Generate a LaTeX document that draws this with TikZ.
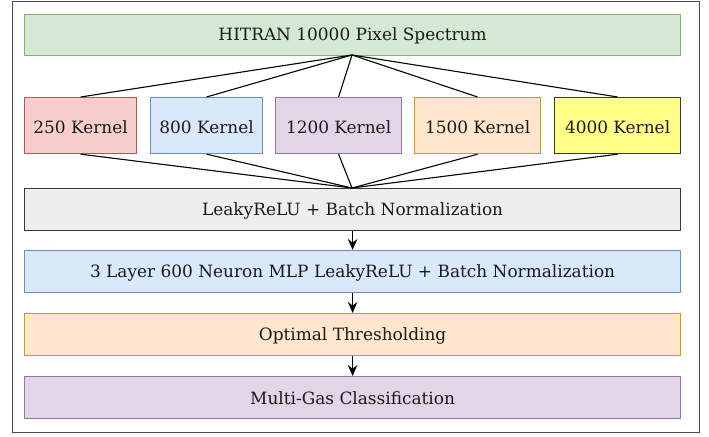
\documentclass[tikz,border=0pt]{standalone}
\usepackage{fontspec}
\setmainfont{DejaVu Serif}
\usetikzlibrary{arrows.meta}
\definecolor{grnF}{HTML}{D5E8D4}\definecolor{grnD}{HTML}{82B366}
\definecolor{redF}{HTML}{F8CECC}\definecolor{redD}{HTML}{B85450}
\definecolor{bluF}{HTML}{DAE8FC}\definecolor{bluD}{HTML}{6C8EBF}
\definecolor{purF}{HTML}{E1D5E7}\definecolor{purD}{HTML}{9673A6}
\definecolor{orgF}{HTML}{FFE6CC}\definecolor{orgD}{HTML}{D79B00}
\definecolor{yelF}{HTML}{FFFF88}\definecolor{darkD}{HTML}{36393D}
\definecolor{gryF}{HTML}{EEEEEE}
\tikzset{
  blk/.style={draw, line width=1.2pt, inner sep=0pt, anchor=north west},
  lbl/.style={font=\fontsize{17}{19}\selectfont, text=black!90},
  link/.style={line width=1.1pt, black},
  flow/.style={line width=1.4pt, black, -{Stealth[length=11pt,width=9.5pt]}},
}
\begin{document}
\begin{tikzpicture}[x=1bp,y=1bp]
\useasboundingbox (0,0) rectangle (709,-437);
% outer frame
\draw[line width=1pt, darkD!90] (12,-2) rectangle (699,-432);

% input spectrum
\node[blk, draw=grnD, fill=grnF, minimum width=656bp, minimum height=41bp] (hit) at (24,-14) {};
\node[lbl] at ([yshift=-1bp]hit.center) {HITRAN 10000 Pixel Spectrum};

% parallel convolution kernels
\node[blk, draw=redD, fill=redF, minimum width=112bp, minimum height=56bp] (k1) at (24,-97) {};
\node[blk, draw=bluD, fill=bluF, minimum width=112bp, minimum height=56bp] (k2) at (150,-97) {};
\node[blk, draw=purD, fill=purF, minimum width=126bp, minimum height=56bp] (k3) at (275,-97) {};
\node[blk, draw=orgD, fill=orgF, minimum width=126bp, minimum height=56bp] (k4) at (414,-97) {};
\node[blk, draw=darkD, fill=yelF, minimum width=126bp, minimum height=56bp] (k5) at (554,-97) {};
\foreach \n/\t in {k1/250,k2/800,k3/1200,k4/1500,k5/4000}
  \node[lbl] at ([yshift=-2bp]\n.center) {\t\ Kernel};

% sequential stages
\node[blk, draw=darkD, fill=gryF, minimum width=656bp, minimum height=42bp] (act) at (24,-188) {};
\node[lbl] at ([yshift=-1bp]act.center) {LeakyReLU + Batch Normalization};

\node[blk, draw=bluD, fill=bluF, minimum width=656bp, minimum height=42bp] (mlp) at (24,-250) {};
\node[lbl] at ([yshift=-1bp]mlp.center) {3 Layer 600 Neuron MLP LeakyReLU + Batch Normalization};

\node[blk, draw=orgD, fill=orgF, minimum width=656bp, minimum height=42bp] (thr) at (24,-313) {};
\node[lbl] at ([yshift=-1bp]thr.center) {Optimal Thresholding};

\node[blk, draw=purD, fill=purF, minimum width=656bp, minimum height=42bp] (cls) at (24,-376) {};
\node[lbl] at ([yshift=-1bp]cls.center) {Multi-Gas Classification};

% fan-out / fan-in
\coordinate (top) at (352,-55);
\coordinate (bot) at (352,-188);
\foreach \n in {k1,k2,k3,k4,k5}{
  \draw[link] (top) -- (\n.north);
  \draw[link] (\n.south) -- (bot);
}
\draw[flow] (act.south) -- (mlp.north);
\draw[flow] (mlp.south) -- (thr.north);
\draw[flow] (thr.south) -- (cls.north);
\end{tikzpicture}
\end{document}
